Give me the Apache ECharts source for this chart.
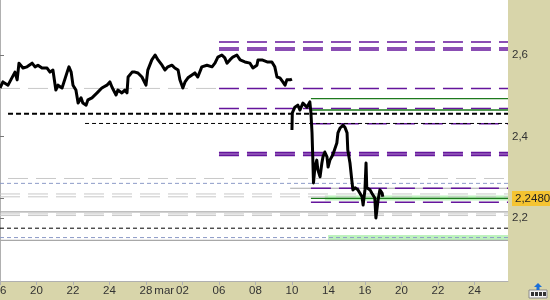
<!DOCTYPE html>
<html>
<head>
<meta charset="utf-8">
<script src="https://cdn.jsdelivr.net/npm/echarts@6/dist/echarts.min.js"></script>
<style>html,body{margin:0;padding:0;background:#d8d5aa;}#c{width:550px;height:300px;}</style>
</head>
<body>
<div id="c"></div>
<script>
// ---- data ----
const xLabels = ['16','20','22','24','28','02','06','08','10','14','16','20','22','24'];
const monthLabel = 'mar';
const monthPos = 4.5;
const xMax = 13.92;
const yTicks = [2.2, 2.4, 2.6];
const lastPrice = 2.248;

const priceX1 = [0,0.08,0.22,0.41,0.47,0.52,0.63,0.74,0.88,0.96,1.04,1.15,1.29,1.37,1.45,1.53,1.59,1.70,1.84,1.89,1.95,2.00,2.08,2.14,2.22,2.27,2.36,2.41,2.52,2.66,2.79,2.93,3.01,3.07,3.10,3.18,3.23,3.34,3.42,3.48,3.51,3.62,3.70,3.78,3.89,4.00,4.05,4.16,4.25,4.33,4.44,4.52,4.60,4.71,4.79,4.88,4.93,5.01,5.07,5.15,5.26,5.34,5.42,5.53,5.67,5.81,5.89,5.97,6.08,6.16,6.22,6.30,6.38,6.49,6.58,6.71,6.85,6.93,7.04,7.07,7.18,7.32,7.45,7.53,7.59,7.67,7.75,7.81,7.86,7.95,8.00];
const priceY1 = [2.519,2.534,2.526,2.558,2.539,2.580,2.568,2.571,2.580,2.571,2.575,2.568,2.568,2.558,2.563,2.514,2.526,2.519,2.558,2.571,2.558,2.526,2.514,2.482,2.495,2.482,2.477,2.490,2.495,2.507,2.519,2.526,2.534,2.521,2.519,2.502,2.514,2.507,2.514,2.507,2.546,2.558,2.558,2.556,2.546,2.526,2.563,2.588,2.600,2.588,2.575,2.563,2.571,2.575,2.568,2.563,2.539,2.519,2.534,2.544,2.551,2.556,2.546,2.571,2.575,2.571,2.580,2.595,2.600,2.593,2.580,2.588,2.595,2.600,2.588,2.583,2.580,2.568,2.575,2.588,2.588,2.583,2.583,2.571,2.546,2.544,2.534,2.526,2.539,2.539,2.541];
const priceX2 = [8.00,8.01,8.08,8.16,8.22,8.30,8.41,8.49,8.52,8.55,8.57,8.59,8.63,8.68,8.71,8.77,8.82,8.85,8.90,8.96,8.99,9.04,9.12,9.23,9.26,9.32,9.40,9.45,9.51,9.53,9.59,9.64,9.67,9.73,9.81,9.92,9.95,10.00,10.03,10.05,10.14,10.19,10.27,10.30,10.36,10.41,10.47,10.49];
const priceY2 = [2.416,2.458,2.472,2.477,2.465,2.482,2.472,2.485,2.458,2.409,2.350,2.286,2.325,2.342,2.318,2.301,2.335,2.350,2.362,2.350,2.325,2.342,2.355,2.384,2.409,2.421,2.428,2.423,2.409,2.367,2.335,2.293,2.269,2.274,2.269,2.252,2.232,2.269,2.335,2.274,2.269,2.261,2.249,2.200,2.244,2.269,2.261,2.252];

// levels: [value, fromX, toX(optional)]
const bandLevels = [[2.249,8.90],[2.152,8.99]];
const grayDashLevels = [[2.518,0,6.0],[2.297,0.22],[2.259,0],[2.252,0],[2.210,0],[2.206,0]];
const blueDashLevels = [[2.285,0],[2.152,0]];
const graySolidLevels = [[2.273,7.95],[2.215,0],[2.145,0]];
const purpleLevels = [[2.632,6.0],[2.617,6.0],[2.612,6.0],[2.518,6.0],[2.469,6.0],[2.431,8.52],[2.273,8.52],[2.2385,8.52]];
const purpleHeavyLevels = [[2.360,6.0],[2.354,6.0]];
const blackHeavyLevels = [[2.456,0.22]];
const blackDashLevels = [[2.432,2.33],[2.175,0]];
const greenLevels = [[2.493,8.52],[2.465,8.52],[lastPrice,8.52]];

// ---- build ----
function levelSeries(levels, style) {
  return levels.map(l => ({
    type: 'line', silent: true, symbol: 'none', animation: false,
    data: [[l[1], l[0]], [l[2] !== undefined ? l[2] : xMax, l[0]]],
    lineStyle: style, z: 2
  }));
}
const pts1 = priceX1.map((x, i) => [x, priceY1[i]]);
const pts2 = priceX2.map((x, i) => [x, priceY2[i]]);
const priceData = pts1.concat([[8.0, null]], pts2);

const xCustom = xLabels.map((_, i) => i);
xCustom.splice(5, 0, monthPos);

const series = [].concat(
  levelSeries(bandLevels, {color: '#bdf2bd', width: 5, type: 'solid'}),
  levelSeries(grayDashLevels, {color: '#c8c8c8', width: 1, type: [20, 8]}),
  levelSeries(blueDashLevels, {color: '#8e9cc8', width: 1, type: [4, 3]}),
  levelSeries(graySolidLevels, {color: '#a8a8a8', width: 1.2, type: 'solid'}),
  levelSeries(purpleLevels, {color: '#65159c', width: 1.5, type: [20, 8]}),
  levelSeries(purpleHeavyLevels, {color: '#65159c', width: 2, type: [20, 8]}),
  levelSeries(blackHeavyLevels, {color: '#000', width: 2, type: [5, 3]}),
  levelSeries(blackDashLevels, {color: '#000', width: 1, type: [4, 3]}),
  levelSeries(greenLevels, {color: '#1d7a1d', width: 1.3, type: 'solid'}),
  [{
    type: 'line', symbol: 'none', animation: false, connectNulls: false,
    data: priceData, z: 5,
    lineStyle: {color: '#000', width: 3, join: 'round'}
  }]
);

const chart = echarts.init(document.getElementById('c'), null, {renderer: 'canvas'});
chart.setOption({
  backgroundColor: '#d8d5aa',
  animation: false,
  grid: {left: 0, top: 0, right: 42, bottom: 19, containLabel: false, outerBoundsMode: 'none',
         show: true, backgroundColor: '#ffffff', borderWidth: 0},
  xAxis: {
    type: 'value', min: 0, max: xMax,
    axisLine: {show: true, lineStyle: {color: '#b0b0b0'}},
    axisTick: {show: true, customValues: xLabels.map((_, i) => i), length: 4, lineStyle: {color: '#b0b0b0'}},
    splitLine: {show: false},
    axisLabel: {
      customValues: xCustom, margin: 4, color: '#333', hideOverlap: false,
      fontFamily: 'Liberation Sans', fontSize: 11.5,
      formatter: v => (v === monthPos ? monthLabel : xLabels[Math.round(v)])
    }
  },
  yAxis: {
    type: 'value', position: 'right', min: 2.0454, max: 2.735,
    axisLine: {show: true, lineStyle: {color: '#b0b0b0'}},
    axisTick: {show: true, customValues: yTicks.concat([lastPrice]), length: 4, lineStyle: {color: '#777'}},
    splitLine: {show: false},
    axisLabel: {
      customValues: yTicks.concat([lastPrice]), margin: 4, color: '#333',
      fontFamily: 'Liberation Sans', fontSize: 11.5,
      formatter: v => (v === lastPrice ? '{hl|' + v.toFixed(4).replace('.', ',') + '}' : v.toFixed(1).replace('.', ',')),
      rich: {hl: {backgroundColor: '#f5c431', color: '#222', padding: [2, 8, 1, 3], fontFamily: 'Liberation Sans', fontSize: 11.5}}
    }
  },
  graphic: [
    {type: 'rect', shape: {x: 529, y: 290, width: 18, height: 8}, style: {fill: '#f4f4f4', stroke: '#8a8a8a', lineWidth: 1}},
    {type: 'rect', shape: {x: 531, y: 292, width: 3, height: 4}, style: {fill: '#333'}},
    {type: 'rect', shape: {x: 535, y: 292, width: 3, height: 4}, style: {fill: '#333'}},
    {type: 'rect', shape: {x: 539, y: 292, width: 3, height: 4}, style: {fill: '#333'}},
    {type: 'rect', shape: {x: 543, y: 292, width: 3, height: 4}, style: {fill: '#333'}},
    {type: 'polygon', shape: {points: [[538, 283], [542, 287], [539.5, 287], [539.5, 290], [536.5, 290], [536.5, 287], [534, 287]]}, style: {fill: '#1a6fd8'}}
  ],
  series: series
});
</script>
</body>
</html>
